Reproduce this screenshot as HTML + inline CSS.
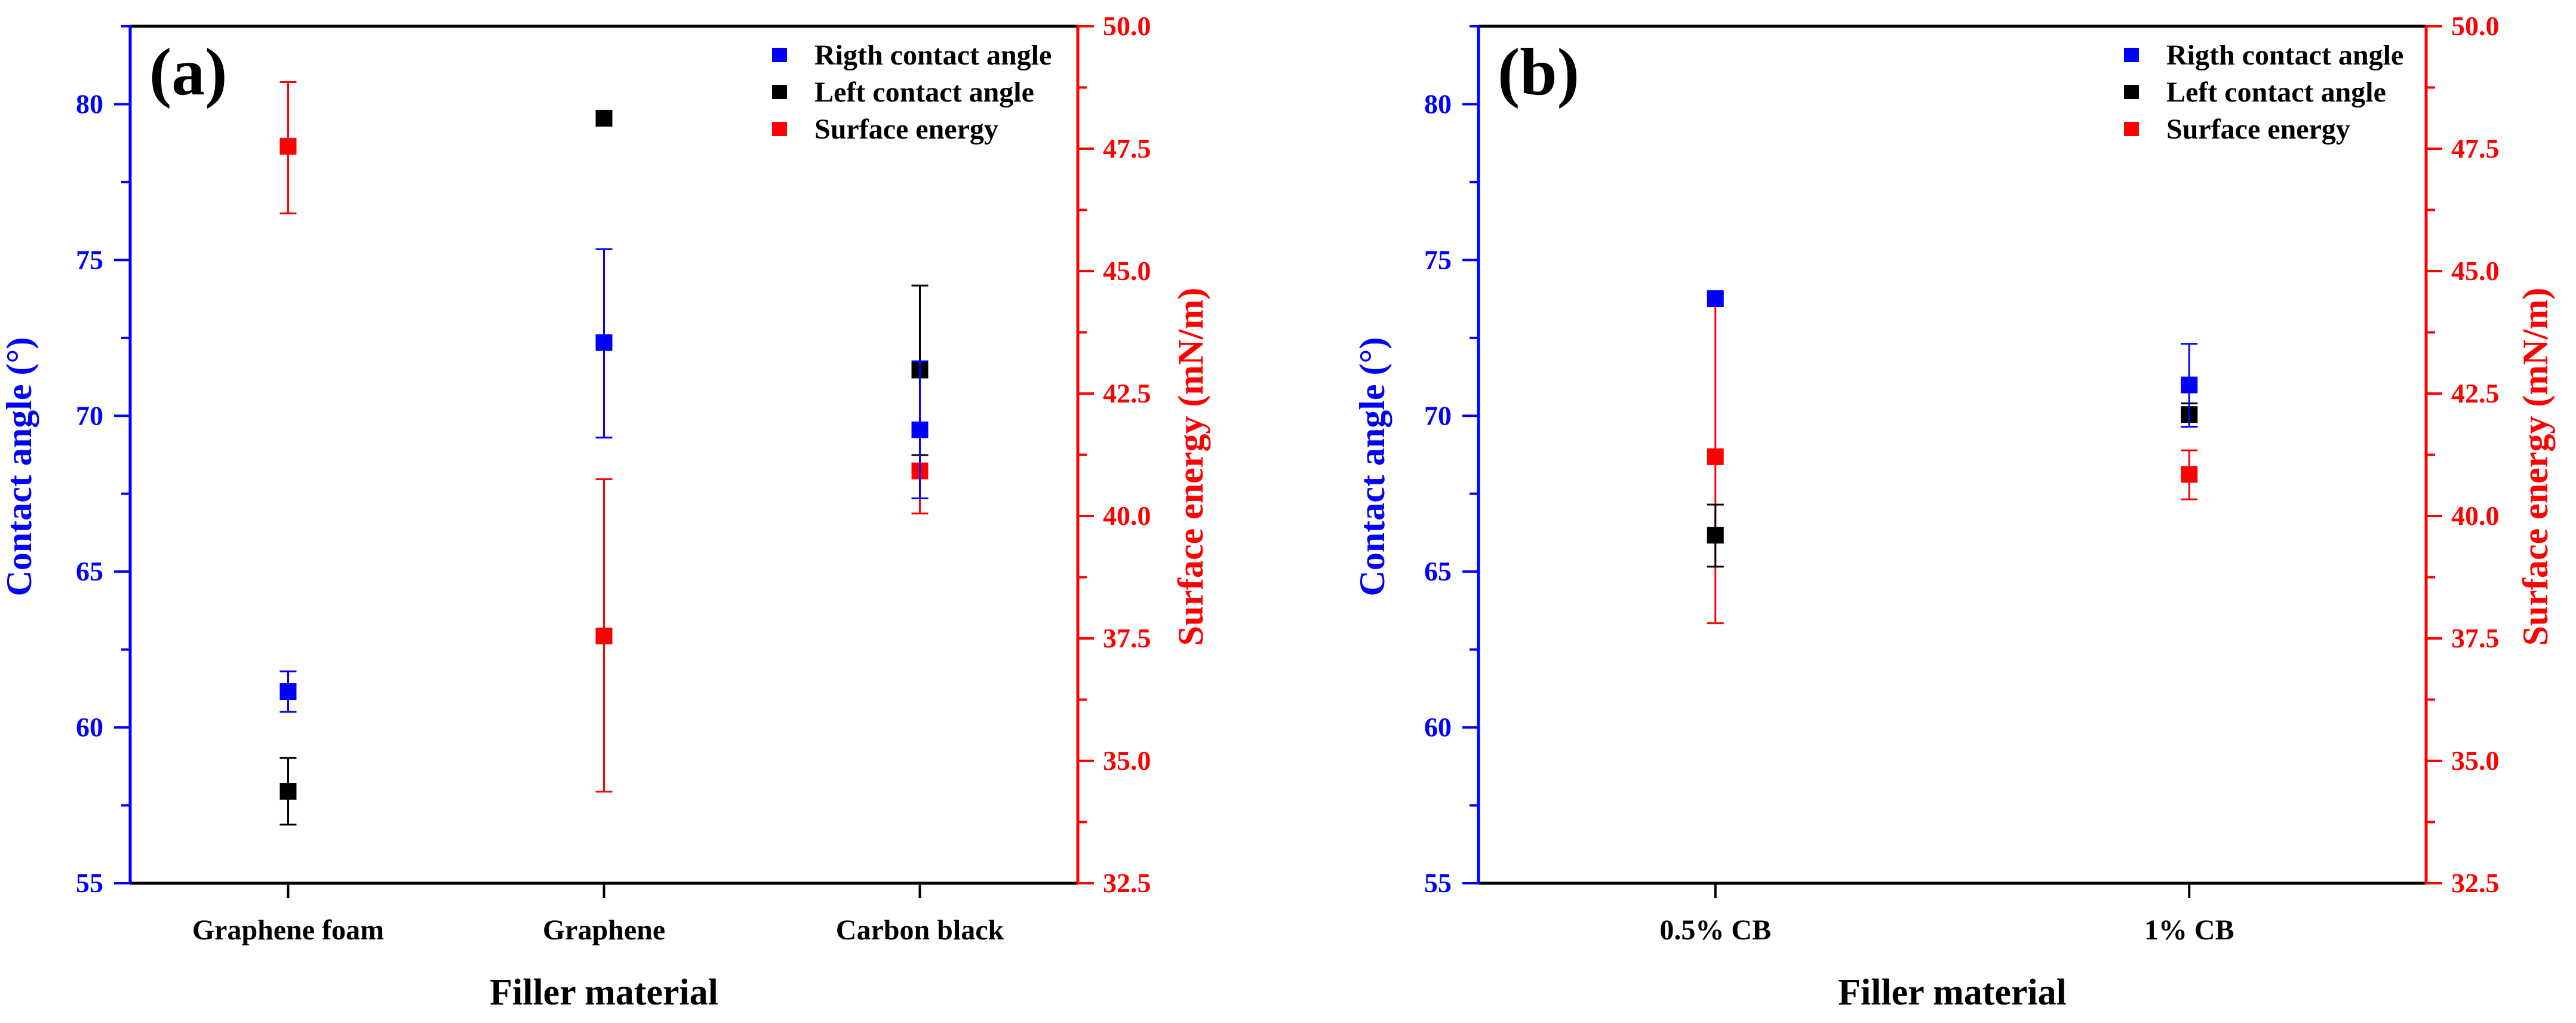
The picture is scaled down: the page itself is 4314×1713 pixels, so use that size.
<!DOCTYPE html>
<html><head><meta charset="utf-8"><style>
html,body{margin:0;padding:0;background:#fff;}
svg{display:block;font-family:"Liberation Serif",serif;font-weight:bold;}
</style></head><body>
<svg id="chart" width="4314" height="1713" viewBox="0 0 4314 1713" xmlns="http://www.w3.org/2000/svg"></svg>
<script>
// Panel (a) data
const catsA = ["Graphene foam","Graphene","Carbon black"];
const rightA = [61.15, 72.35, 69.55];
const rightAlo = [60.5, 69.3, 67.35];
const rightAhi = [61.8, 75.35, 71.75];
const leftA = [57.95, 79.55, 71.47];
const leftAlo = [56.88, 79.55, 68.74];
const leftAhi = [59.02, 79.55, 74.18];
const seA = [47.55, 37.55, 40.92];
const seAlo = [46.18, 34.37, 40.05];
const seAhi = [48.86, 40.75, 41.75];
// Panel (b) data
const catsB = ["0.5% CB","1% CB"];
const rightB = [73.76, 70.99];
const rightBlo = [73.6, 69.65];
const rightBhi = [73.9, 72.31];
const leftB = [66.17, 70.04];
const leftBlo = [65.16, 69.65];
const leftBhi = [67.15, 70.4];
const seB = [41.21, 40.85];
const seBlo = [37.81, 40.34];
const seBhi = [44.54, 41.34];
// Axis ticks
const leftTicks = [55, 60, 65, 70, 75, 80];
const rightTicks = [32.5, 35.0, 37.5, 40.0, 42.5, 45.0, 47.5, 50.0];
const legendLabels = ["Rigth contact angle","Left contact angle","Surface energy"];

const NS = "http://www.w3.org/2000/svg";
const svg = document.getElementById("chart");
function mk(tag, attrs, parent, text){
  const e = document.createElementNS(NS, tag);
  for (const k in attrs) e.setAttribute(k, attrs[k]);
  if (text !== undefined) e.textContent = text;
  (parent||svg).appendChild(e);
  return e;
}

function panel(cfg){
  const g = mk("g", {});
  
  
  const L=cfg.x0, R=cfg.x1, T=44, B=1479;
  const lmin=55, lmax=82.5, rmin=32.5, rmax=50;
  const yL = v => B - (v - lmin)/(lmax - lmin)*(B - T);
  const yR = v => B - (v - rmin)/(rmax - rmin)*(B - T);
  const n = cfg.cats.length;
  const xC = i => L + (i + 0.5)*(R - L)/n;

  const top = mk("line",{x1:L,y1:T,x2:R,y2:T,stroke:"#000","stroke-width":5},g);
   
  const bot = mk("line",{x1:L,y1:B,x2:R,y2:B,stroke:"#000","stroke-width":5},g);
   
  const la = mk("line",{x1:L,y1:T-2,x2:L,y2:B+2,stroke:"#0000ff","stroke-width":5},g);
   
  const ra = mk("line",{x1:R,y1:T-2,x2:R,y2:B+2,stroke:"#ff0000","stroke-width":5},g);
   

  for (let v=lmin; v<=lmax+0.01; v+=2.5){
    const major = Math.abs(v%5) < 0.01;
    mk("line",{x1:L-(major?27:15),y1:yL(v),x2:L,y2:yL(v),stroke:"#0000ff","stroke-width":4},g);
  }
  leftTicks.forEach(v=>{
    const t = mk("text",{x:L-45,y:yL(v)+15,"text-anchor":"end","font-size":46,fill:"#0000ff"},g,String(v));
     
  });
  for (let v=rmin; v<=rmax+0.01; v+=1.25){
    const major = Math.abs((v-rmin)%2.5) < 0.01;
    mk("line",{x1:R,y1:yR(v),x2:R+(major?27:15),y2:yR(v),stroke:"#ff0000","stroke-width":4},g);
  }
  rightTicks.forEach(v=>{
    const t = mk("text",{x:R+42,y:yR(v)+15,"font-size":46,fill:"#ff0000"},g,v.toFixed(1));
     
  });
  cfg.cats.forEach((c,i)=>{
    mk("line",{x1:xC(i),y1:B,x2:xC(i),y2:B+25,stroke:"#000","stroke-width":4},g);
    const t = mk("text",{x:xC(i),y:1573,"text-anchor":"middle","font-size":48,fill:"#000"},g,c);
     
  });
  const xt = mk("text",{x:(L+R)/2,y:1682,"text-anchor":"middle","font-size":62,fill:"#000"},g,"Filler material");
   
  const yt = mk("text",{x:0,y:0,"text-anchor":"middle","font-size":60,fill:"#0000ff",transform:`translate(${cfg.ltx},${(T+B)/2+20}) rotate(-90)`},g,"Contact angle (°)");
   
  const rt = mk("text",{x:0,y:0,"text-anchor":"middle","font-size":60,fill:"#ff0000",transform:`translate(${cfg.rtx},${(T+B)/2+20}) rotate(-90)`},g,"Surface energy (mN/m)");
   
  const pl = mk("text",{x:L+32,y:158,"font-size":112,fill:"#000"},g,cfg.label);
   

  const series = [
    {name:"surface-energy", color:"#ff0000", v:cfg.se, lo:cfg.selo, hi:cfg.sehi, y:yR},
    {name:"left-contact-angle", color:"#000", v:cfg.left, lo:cfg.leftlo, hi:cfg.lefthi, y:yL},
    {name:"right-contact-angle", color:"#0000ff", v:cfg.right, lo:cfg.rightlo, hi:cfg.righthi, y:yL}
  ];
  series.forEach(s=>{
    s.v.forEach((v,i)=>{
      const x = xC(i);
      if (Math.abs(s.hi[i]-s.lo[i])>0.05){
        const e = mk("g",{stroke:s.color,"stroke-width":3},g);
        
        
        mk("line",{x1:x,y1:s.y(s.lo[i]),x2:x,y2:s.y(s.hi[i])},e);
        mk("line",{x1:x-14,y1:s.y(s.lo[i]),x2:x+14,y2:s.y(s.lo[i])},e);
        mk("line",{x1:x-14,y1:s.y(s.hi[i]),x2:x+14,y2:s.y(s.hi[i])},e);
      }
      const r = mk("rect",{x:x-14,y:s.y(v)-14,width:28,height:28,fill:s.color},g);
      
      
    });
  });
  const lg = mk("g",{},g);
  
  
  const lcol = ["#0000ff","#000","#ff0000"];
  legendLabels.forEach((lab,i)=>{
    const y = 92 + i*62;
    mk("rect",{x:cfg.legx,y:y-12,width:25,height:24,fill:lcol[i]},lg);
    const t = mk("text",{x:cfg.legx+71,y:y+16,"font-size":48,fill:"#000"},lg,lab);
     
  });
}

panel({name:"panel-a", label:"(a)", x0:218, x1:1805, cats:catsA, ltx:52, rtx:2014, legx:1293,
  right:rightA, rightlo:rightAlo, righthi:rightAhi, left:leftA, leftlo:leftAlo, lefthi:leftAhi,
  se:seA, selo:seAlo, sehi:seAhi});
panel({name:"panel-b", label:"(b)", x0:2476, x1:4063, cats:catsB, ltx:2318, rtx:4266, legx:3557,
  right:rightB, rightlo:rightBlo, righthi:rightBhi, left:leftB, leftlo:leftBlo, lefthi:leftBhi,
  se:seB, selo:seBlo, sehi:seBhi});
</script>
</body></html>
